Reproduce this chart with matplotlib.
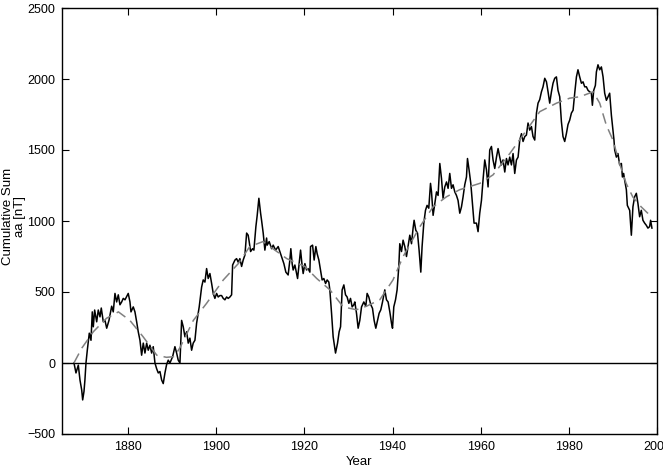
import numpy as np
import matplotlib
matplotlib.use("Agg")
from matplotlib import pyplot as plt

plt.rcParams['font.family'] = ['Liberation Sans', 'DejaVu Sans']

# cumulative sum of aa
years = [1867.72, 1868.17, 1868.70, 1869.08, 1869.47, 1869.69, 1869.99, 1870.20, 1870.44, 1870.74,
         1871.19, 1871.58, 1871.87, 1872.10, 1872.41, 1872.87, 1873.23, 1873.62, 1873.91, 1874.37,
         1874.75, 1875.14, 1875.66, 1876.27, 1876.63, 1877.02, 1877.40, 1877.77, 1878.15, 1878.54,
         1878.90, 1879.29, 1880.03, 1880.42, 1880.65, 1881.17, 1881.55, 1881.94, 1882.30, 1882.69,
         1883.07, 1883.44, 1883.82, 1884.21, 1884.57, 1884.95, 1885.34, 1885.70, 1886.09, 1886.47,
         1886.84, 1887.22, 1887.61, 1887.97, 1888.36, 1888.74, 1889.10, 1889.49, 1890.10, 1890.62,
         1891.01, 1891.37, 1891.76, 1892.14, 1892.51, 1892.89, 1893.28, 1893.64, 1894.02, 1894.41,
         1894.77, 1895.16, 1895.54, 1896.13, 1896.68, 1897.04, 1897.43, 1897.81, 1898.17, 1898.56,
         1898.95, 1899.31, 1899.69, 1900.08, 1900.44, 1900.83, 1901.21, 1901.58, 1901.96, 1902.35,
         1902.71, 1903.10, 1903.48, 1903.71, 1904.24, 1904.61, 1904.98, 1905.36, 1905.75, 1906.11,
         1906.50, 1906.89, 1907.24, 1907.47, 1907.79, 1908.24, 1908.54, 1908.99, 1909.29, 1909.67,
         1910.06, 1910.28, 1910.65, 1911.03, 1911.42, 1911.56, 1912.01, 1912.56, 1912.92, 1913.46,
         1914.05, 1914.43, 1914.82, 1915.34, 1915.79, 1916.31, 1916.70, 1916.92, 1917.22, 1917.45,
         1917.84, 1918.22, 1918.45, 1918.81, 1919.13, 1919.50, 1919.72, 1920.11, 1920.49, 1920.85,
         1921.24, 1921.39, 1921.85, 1922.21, 1922.60, 1922.89, 1923.28, 1923.66, 1924.02, 1924.41,
         1924.80, 1925.16, 1925.54, 1925.77, 1926.16, 1926.52, 1927.06, 1927.52, 1927.88, 1928.20,
         1928.56, 1928.95, 1929.33, 1929.69, 1930.08, 1930.46, 1930.83, 1931.21, 1931.44, 1931.82,
         1932.19, 1932.57, 1932.96, 1933.32, 1933.48, 1933.93, 1934.23, 1934.61, 1935.07, 1935.45,
         1935.82, 1936.20, 1936.59, 1936.95, 1937.34, 1937.72, 1938.24, 1938.62, 1938.99, 1939.38,
         1939.76, 1939.99, 1940.28, 1940.67, 1941.03, 1941.42, 1941.64, 1942.03, 1942.39, 1942.78,
         1943.16, 1943.52, 1943.91, 1944.30, 1944.66, 1944.89, 1945.27, 1945.66, 1946.02, 1946.41,
         1946.70, 1947.09, 1947.47, 1947.83, 1948.22, 1948.61, 1948.84, 1949.20, 1949.59, 1949.97,
         1950.33, 1950.72, 1951.10, 1951.46, 1951.85, 1952.24, 1952.60, 1952.98, 1953.37, 1953.73,
         1954.12, 1954.50, 1954.86, 1955.25, 1955.64, 1956.00, 1956.38, 1956.77, 1957.00, 1957.36,
         1957.75, 1958.13, 1958.49, 1959.04, 1959.40, 1959.78, 1960.17, 1960.53, 1960.92, 1961.31,
         1961.67, 1962.05, 1962.44, 1962.80, 1963.19, 1963.58, 1963.94, 1964.32, 1964.71, 1965.07,
         1965.46, 1965.84, 1966.20, 1966.59, 1966.97, 1967.34, 1967.72, 1968.11, 1968.48, 1968.86,
         1969.25, 1969.61, 1970.00, 1970.37, 1970.74, 1971.12, 1971.51, 1971.87, 1972.26, 1972.65,
         1973.01, 1973.39, 1973.78, 1974.14, 1974.53, 1974.92, 1975.28, 1975.66, 1976.05, 1976.41,
         1976.79, 1977.18, 1977.54, 1977.93, 1978.31, 1978.67, 1979.06, 1979.44, 1979.81, 1980.19,
         1980.58, 1980.96, 1981.33, 1981.72, 1982.07, 1982.46, 1982.85, 1983.22, 1983.60, 1983.98,
         1984.35, 1984.73, 1985.11, 1985.34, 1985.64, 1986.02, 1986.25, 1986.61, 1987.00, 1987.38,
         1987.76, 1988.13, 1988.52, 1988.88, 1989.26, 1989.65, 1990.01, 1990.24, 1990.40, 1990.78,
         1991.14, 1991.53, 1991.92, 1992.15, 1992.43, 1992.65, 1993.05, 1993.27, 1993.57, 1993.80,
         1994.18, 1994.54, 1994.92, 1995.31, 1995.67, 1996.06, 1996.44, 1996.81, 1997.20, 1997.57,
         1997.94, 1998.32, 1998.55, 1998.85]
cumsum_aa = [0, -70, -15, -120, -190, -260, -200, -120, 0, 90,
             210, 160, 360, 255, 373, 290, 373, 325, 387, 290,
             300, 245, 300, 400, 360, 490, 430, 480, 410, 430,
             455, 445, 490, 430, 360, 395, 360, 290, 220, 160,
             55, 140, 70, 140, 90, 125, 70, 115, 0, -40,
             -70, -60, -120, -145, -70, -10, 20, 0, 45, 115,
             70, 20, 0, 300, 255, 185, 220, 140, 175, 90,
             140, 160, 280, 395, 535, 585, 570, 665, 595, 630,
             560, 490, 455, 490, 465, 475, 475, 455, 445, 465,
             455, 465, 480, 690, 725, 735, 710, 735, 680, 725,
             760, 915, 900, 855, 785, 805, 795, 960, 1040, 1160,
             1055, 1005, 915, 795, 880, 830, 855, 805, 830, 795,
             820, 785, 750, 700, 640, 620, 725, 805, 700, 655,
             690, 630, 595, 700, 795, 680, 630, 700, 655, 665,
             640, 820, 830, 725, 820, 770, 725, 655, 585, 595,
             560, 585, 570, 515, 350, 185, 70, 140, 220, 255,
             515, 550, 480, 465, 420, 455, 395, 410, 430, 350,
             245, 300, 395, 420, 430, 400, 490, 465, 410, 385,
             300, 245, 300, 350, 375, 430, 515, 445, 430, 360,
             280, 245, 395, 445, 515, 680, 840, 785, 865, 820,
             750, 820, 900, 840, 950, 1005, 935, 915, 795, 640,
             820, 985, 1075, 1110, 1090, 1265, 1205, 1040, 1125, 1205,
             1180, 1405, 1300, 1160, 1240, 1275, 1230, 1335, 1230, 1255,
             1205, 1180, 1145, 1055, 1100, 1170, 1255, 1310, 1440, 1360,
             1265, 1125, 985, 985, 925, 1055, 1145, 1290, 1430, 1360,
             1240, 1500, 1525, 1430, 1370, 1450, 1510, 1450, 1395, 1430,
             1345, 1440, 1395, 1450, 1395, 1475, 1335, 1430, 1450, 1570,
             1615, 1560, 1595, 1605, 1690, 1640, 1665, 1595, 1570, 1760,
             1830, 1855, 1910, 1945, 2005, 1980, 1910, 1830, 1910, 1970,
             2005, 2015, 1920, 1875, 1700, 1595, 1560, 1615, 1680, 1710,
             1760, 1780, 1900, 2015, 2065, 2015, 1970, 1980, 1945, 1945,
             1920, 1910, 1900, 1815, 1920, 1955, 2050, 2100, 2065, 2085,
             2015, 1900, 1850, 1875, 1900, 1745, 1640, 1570, 1500, 1450,
             1475, 1395, 1405, 1310, 1335, 1290, 1220, 1110, 1090, 1075,
             900, 1100, 1170, 1195, 1125, 1030, 1075, 1005, 985, 970,
             950, 960, 1005, 950]

# smoothed trend (dashed)
trend_years = [1867.7, 1869.5, 1872.1, 1875.1, 1877.8, 1880.4, 1883.4, 1886.5, 1888.7, 1890.5,
               1891.8, 1894.8, 1897.8, 1901.6, 1905.0, 1907.6, 1910.6, 1916.0, 1920.1, 1922.8,
               1925.8, 1928.8, 1931.8, 1934.1, 1937.1, 1940.1, 1942.4, 1946.2, 1949.2, 1952.2,
               1955.2, 1959.8, 1962.8, 1966.6, 1969.6, 1973.4, 1977.2, 1980.2, 1982.5, 1985.5,
               1987.0, 1988.5, 1990.0, 1991.5, 1993.0, 1994.5, 1996.4, 1997.9, 1998.3]
trend = [0, 105, 220, 315, 360, 300, 185, 55, 40, 45,
         110, 300, 420, 585, 700, 820, 855, 735, 680, 595,
         515, 395, 375, 400, 445, 585, 750, 960, 1100, 1170,
         1220, 1265, 1325, 1475, 1605, 1770, 1830, 1865, 1875, 1910,
         1830, 1675, 1570, 1405, 1265, 1170, 1100, 1055, 1040]

fig = plt.figure(figsize=(6.63, 4.70), dpi=100)
ax = fig.add_axes([62 / 663, 36 / 470, 595 / 663, 426 / 470])

ax.axhline(0, color='black', lw=1.0)
ax.plot(years, cumsum_aa, color='black', lw=1.1)
ax.plot(trend_years, trend, color='#808080', lw=1.1, dashes=(7, 4))

ax.set_xlim(1865, 2000)
ax.set_ylim(-500, 2500)
ax.set_xticks(np.arange(1880, 2001, 20))
ax.set_yticks(np.arange(-500, 2501, 500))
ax.set_yticklabels(['\u2212500', '0', '500', '1000', '1500', '2000', '2500'])

ax.tick_params(direction='in', length=5, width=0.8, labelsize=9, colors='black',
               top=True, right=True, pad=5)
for s in ax.spines.values():
    s.set_linewidth(1.0)

ax.set_xlabel('Year', fontsize=9.5)
ax.xaxis.set_label_coords(0.5, -0.052)
ax.set_ylabel('Cumulative Sum\naa [nT]', fontsize=9.5, linespacing=1.0)
ax.yaxis.set_label_coords(-0.06, 0.51)

plt.savefig('out.png', dpi=100)
